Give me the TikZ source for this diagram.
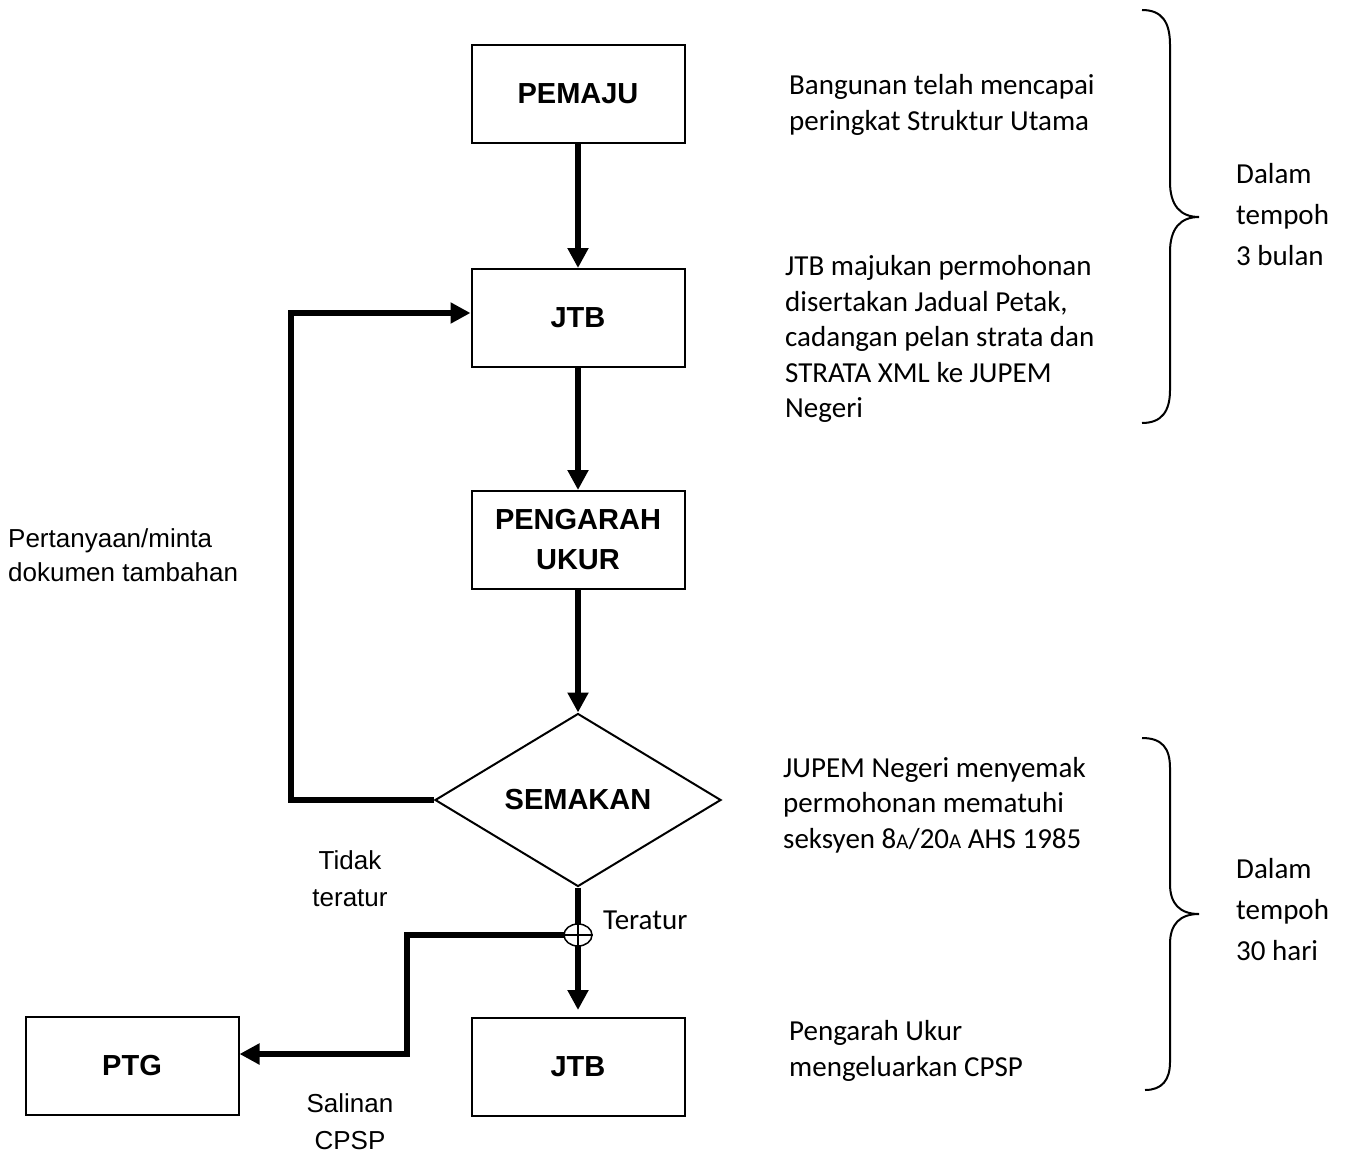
\documentclass[tikz,border=0pt]{standalone}
\usepackage{fontspec}
\setmainfont{Carlito}
\newfontfamily\arial{Liberation Sans}
\usetikzlibrary{arrows.meta,shapes.geometric,positioning}
\newcommand\kecilA{{\fontsize{21}{21}\selectfont A}}

\begin{document}
\begin{tikzpicture}[x=1pt,y=-1pt,
	box/.style={rectangle,draw,line width=2pt,minimum width=213pt,minimum height=98pt,align=center,font=\arial\bfseries\fontsize{29}{40}\selectfont},
	flow/.style={line width=5.5pt,-{Triangle[length=20pt,width=20pt]}},
	note/.style={anchor=west,align=left,inner sep=0pt,font=\fontsize{29}{35.5}\selectfont},
	side/.style={align=center,inner sep=0pt,font=\arial\fontsize{26}{37}\selectfont}]
			\useasboundingbox (0,0) rectangle (1351,1153);
			
			\node[box] (pemaju) at (578,94) {PEMAJU};
			\node[box] (jtb) at (578,318) {JTB};
			\node[box] (pengarah) at (578,540) {PENGARAH\\UKUR};
			\node[diamond,draw,line width=2pt,minimum width=286pt,minimum height=173pt,inner sep=0pt,font=\arial\bfseries\fontsize{29}{40}\selectfont] (semakan) at (578,800) {SEMAKAN};
			\node[box] (jtbakhir) at (578,1067) {JTB};
			\node[box] (ptg) at (132,1066) {PTG};
			\coordinate (junc) at (578,935);
			
			\draw[flow] (pemaju) -- (jtb);
			\draw[flow] (jtb) -- (pengarah);
			\draw[flow] (pengarah) -- (semakan);
			\draw[flow,shorten >=7pt] (semakan) -- (jtbakhir);
			\draw[flow] (semakan.west) -- ++(-143,0) |- ([yshift=5pt]jtb.west);
			\draw[flow] (junc) -- ++(-171,0) |- ([yshift=12pt]ptg.east);
			
			\node[ellipse,draw,line width=1.5pt,fill=white,minimum width=28pt,minimum height=22pt,inner sep=0pt] (silang) at (junc) {};
			\draw[line width=1.5pt] (silang.north) -- (silang.south) (silang.west) -- (silang.east);
			
			\node[note] (n1) at (789,105) {Bangunan telah mencapai\\peringkat Struktur Utama};
			\node[note] (n2) at (785,339) {JTB majukan permohonan\\disertakan Jadual Petak,\\cadangan pelan strata dan\\STRATA XML ke JUPEM\\Negeri};
			\node[note] (n3) at (783,805) {JUPEM Negeri menyemak\\permohonan mematuhi\\seksyen 8\kecilA/20\kecilA{} AHS 1985};
			\node[note] (n4) at (789,1051) {Pengarah Ukur\\mengeluarkan CPSP};
			\node[note,font=\fontsize{29}{41}\selectfont] (bulan) at (1236,215) {Dalam\\tempoh\\3 bulan};
			\node[note,font=\fontsize{29}{41}\selectfont] (hari) at (1236,910) {Dalam\\tempoh\\30 hari};
			\node[note] (teratur) at (603,920) {Teratur};
			\node[side,anchor=west,align=left,font=\arial\fontsize{26}{34}\selectfont] (tanya) at (8,555) {Pertanyaan/minta\\dokumen tambahan};
			\node[side] (tidak) at (350,879) {Tidak\\teratur};
			\node[side] (salinan) at (350,1122) {Salinan\\CPSP};
			
			\draw[line width=2pt] (1142,10) .. controls (1162,10) and (1170,22) .. (1170,45) -- (1170,182) .. controls (1170,205) and (1180,217) .. (1199,217) .. controls (1180,217) and (1170,229) .. (1170,252) -- (1170,390) .. controls (1170,411) and (1162,423) .. (1142,423);
			\draw[line width=2pt] (1142,738) .. controls (1162,738) and (1170,748) .. (1170,768) -- (1170,884) .. controls (1170,904) and (1180,914) .. (1199,914) .. controls (1180,914) and (1170,924) .. (1170,944) -- (1170,1062) .. controls (1170,1080) and (1162,1090) .. (1145,1090);
		\end{tikzpicture}
\end{document}
